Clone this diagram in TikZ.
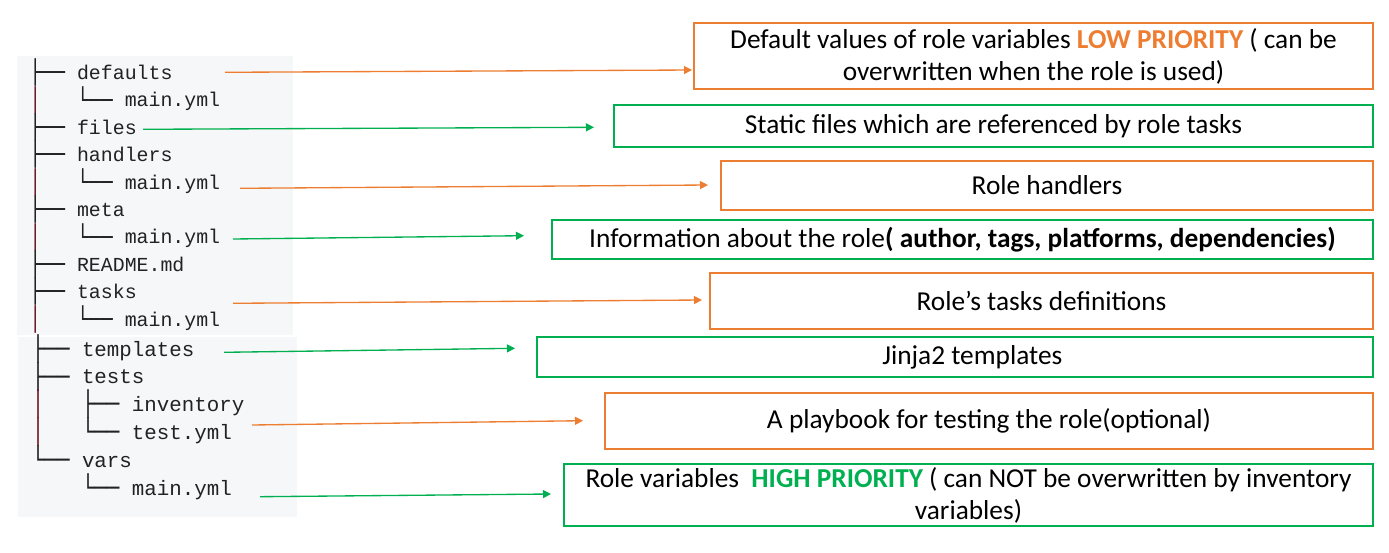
\documentclass[tikz,border=0pt]{standalone}
\usepackage{fontspec}
\setmainfont{Carlito}
\setmonofont{Liberation Mono}
\newfontfamily\boxglyph{DejaVu Sans Mono}
\usepackage{graphicx}
\usepackage{tikz}
\usetikzlibrary{arrows.meta}
\definecolor{roleorange}{HTML}{ED7D31}
\definecolor{rolegreen}{HTML}{00B050}
\definecolor{treegray}{HTML}{F6F7F8}
\definecolor{treeink}{HTML}{222222}
\definecolor{treebar}{HTML}{6E1A26}
% stretched box-drawing glyphs so the tree lines run on from row to row
\newcommand{\tallglyph}[1]{\raisebox{-0.06em}{\scalebox{1}[1.17]{\boxglyph #1}}}
\newcommand{\tbar}{{\color{treebar}\tallglyph{│}}}
\newcommand{\branch}{\tallglyph{├──}}
\newcommand{\lastbranch}{\tallglyph{└──}}

\begin{document}
\begin{tikzpicture}[
  x=0.75pt, y=-0.75pt,
  upperrow/.style={
    anchor=base west,
    inner sep=0pt,
    text=treeink,
    font=\ttfamily\fontsize{14.9}{18}\selectfont,
  },
  lowerrow/.style={
    upperrow,
    font=\ttfamily\fontsize{15.6}{19}\selectfont,
  },
  rolebox/.style={
    draw,
    line width=1.5pt,
    anchor=north west,
    align=center,
    inner sep=0pt,
    font=\fontsize{20.5}{24}\selectfont,
  },
  lowbox/.style={rolebox, draw=roleorange},
  highbox/.style={rolebox, draw=rolegreen},
  pointer/.style={line width=1pt, -{Triangle[length=6pt,width=6pt]}},
  ]
  \useasboundingbox (0,0) rectangle (1389,553);
  % shaded tree listing
  \fill[treegray] (17.3,56) rectangle (292.7,335);
  \fill[treegray] (18.3,337) rectangle (296.7,516.7);

  \node[upperrow] (dfl) at (29,79.5) {\branch\ defaults};
  \node[upperrow] (dflmain) at (29,106.9) {\tbar\ \ \ \lastbranch\ main.yml};
  \node[upperrow] (files) at (29,134.3) {\branch\ files};
  \node[upperrow] (hdl) at (29,161.7) {\branch\ handlers};
  \node[upperrow] (hdlmain) at (29,189.1) {\tbar\ \ \ \lastbranch\ main.yml};
  \node[upperrow] (meta) at (29,216.5) {\branch\ meta};
  \node[upperrow] (metamain) at (29,243.9) {\tbar\ \ \ \lastbranch\ main.yml};
  \node[upperrow] (readme) at (29,271.3) {\branch\ README.md};
  \node[upperrow] (tasks) at (29,298.7) {\branch\ tasks};
  \node[upperrow] (tasksmain) at (29,326.1) {\tbar\ \ \ \lastbranch\ main.yml};

  \node[lowerrow] (tpl) at (31.7,356) {\branch\ templates};
  \node[lowerrow] (tests) at (31.7,383.8) {\branch\ tests};
  \node[lowerrow] (inv) at (31.7,411.6) {\tbar\ \ \ \branch\ inventory};
  \node[lowerrow] (testyml) at (31.7,439.4) {\tbar\ \ \ \lastbranch\ test.yml};
  \node[lowerrow] (vars) at (31.7,467.2) {\lastbranch\ vars};
  \node[lowerrow] (varsmain) at (31.7,495) {\ \ \ \ \lastbranch\ main.yml};

  % description boxes
  \node[lowbox, minimum width=509.25pt, minimum height=49.5pt] (dflbox) at (693,22)
    {Default values of role variables \textbf{\color{roleorange}LOW PRIORITY} ( can be\\
     overwritten when the role is used)};
  \node[highbox, minimum width=569.25pt, minimum height=31.5pt] (filesbox) at (613,104)
    {Static files which are referenced by role tasks};
  \node[lowbox, minimum width=489pt, minimum height=36.75pt] (hdlbox) at (720,160)
    {Role handlers};
  \node[highbox, minimum width=615.75pt, minimum height=29.6pt] (metabox) at (551,219)
    {Information about the role\textbf{( author, tags, platforms, dependencies)}};
  \node[lowbox, minimum width=497.25pt, minimum height=42pt] (tasksbox) at (709,272)
    {Role’s tasks definitions};
  \node[highbox, minimum width=627pt, minimum height=30pt] (tplbox) at (536,336)
    {\hspace*{26pt}Jinja2 templates};
  \node[lowbox, minimum width=576pt, minimum height=42pt] (testbox) at (604,392)
    {A playbook for testing the role(optional)};
  \node[highbox, minimum width=606.75pt, minimum height=46.5pt] (varsbox) at (563,463)
    {Role variables \ \textbf{\color{rolegreen}HIGH PRIORITY} ( can NOT be overwritten by inventory\\
     variables)};

  % arrow ends
  \coordinate (dfl-a) at (225,72.3);
  \coordinate (dfl-b) at (692,70);
  \coordinate (files-a) at (143,129.3);
  \coordinate (files-b) at (594,127.3);
  \coordinate (hdl-a) at (240,188.3);
  \coordinate (hdl-b) at (708,185);
  \coordinate (meta-a) at (233,239);
  \coordinate (meta-b) at (524,235.7);
  \coordinate (tasks-a) at (233,303.3);
  \coordinate (tasks-b) at (702,300);
  \coordinate (tpl-a) at (224,352.3);
  \coordinate (tpl-b) at (515,348.3);
  \coordinate (test-a) at (252,425);
  \coordinate (test-b) at (583,420.7);
  \coordinate (vars-a) at (260,496.7);
  \coordinate (vars-b) at (551,494);

  \draw[pointer, roleorange] (dfl-a) -- (dfl-b);
  \draw[pointer, rolegreen] (files-a) -- (files-b);
  \draw[pointer, roleorange] (hdl-a) -- (hdl-b);
  \draw[pointer, rolegreen] (meta-a) -- (meta-b);
  \draw[pointer, roleorange] (tasks-a) -- (tasks-b);
  \draw[pointer, rolegreen] (tpl-a) -- (tpl-b);
  \draw[pointer, roleorange] (test-a) -- (test-b);
  \draw[pointer, rolegreen] (vars-a) -- (vars-b);
\end{tikzpicture}
\end{document}
